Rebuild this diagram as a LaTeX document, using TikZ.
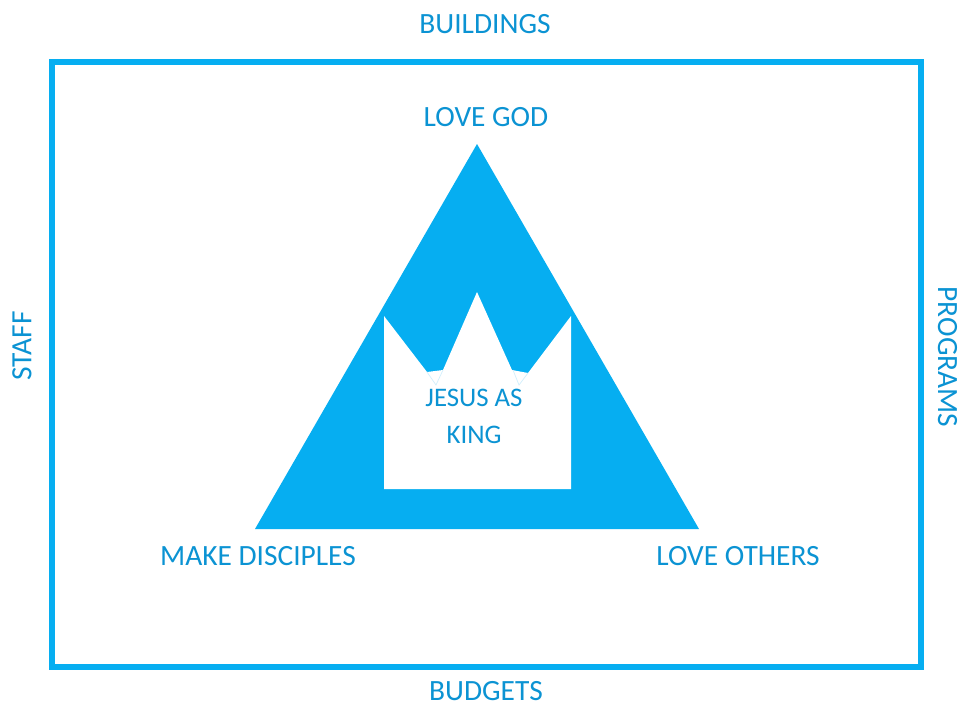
\documentclass[tikz,border=0pt]{standalone}
\usepackage{fontspec}
\setmainfont{Carlito}
\definecolor{blu}{HTML}{06AEF1}
\definecolor{txt}{HTML}{0B93D3}
\definecolor{pale}{HTML}{D2EFFC}
\tikzset{lab/.style={text=txt,font=\fontsize{29.4}{34}\selectfont,inner sep=0pt,align=center},
inlab/.style={text=txt,font=\fontsize{26.8}{32}\selectfont,inner sep=0pt,align=center},
frame/.style={draw=blu,line width=5.4pt,fill=white},
tip/.style={draw=pale,line width=0.7pt}}
\begin{document}
\begin{tikzpicture}[x=1pt,y=-1pt]
\useasboundingbox[fill=white] (0,0) rectangle (958,702);
\draw[frame] (52,62) rectangle (921,667);
\fill[blu] (477,144) -- (699,529) -- (255,529) -- cycle;
\fill[white] (384,489) -- (384,316) -- (427,372) -- (443,370) -- (477,292) -- (512,370) -- (528,373) -- (571,316) -- (571,489) -- cycle;
\draw[tip] (427,372) -- (436,385) -- (443,370);
\draw[tip] (513,370) -- (519,385) -- (528,373);
\node[lab] (buildings) at (485,24) {BUILDINGS};
\node[lab] (budgets) at (486,691) {BUDGETS};
\node[lab] (god) at (486,117) {LOVE GOD};
\node[lab] (disc) at (258,556) {MAKE DISCIPLES};
\node[lab] (others) at (738,556) {LOVE OTHERS};
\node[lab,rotate=90] (staff) at (22,346) {STAFF};
\node[lab,rotate=-90] (programs) at (947.5,357) {PROGRAMS};
\node[inlab] (king1) at (474,398) {JESUS AS};
\node[inlab] (king2) at (474,435) {KING};
\end{tikzpicture}
\end{document}
